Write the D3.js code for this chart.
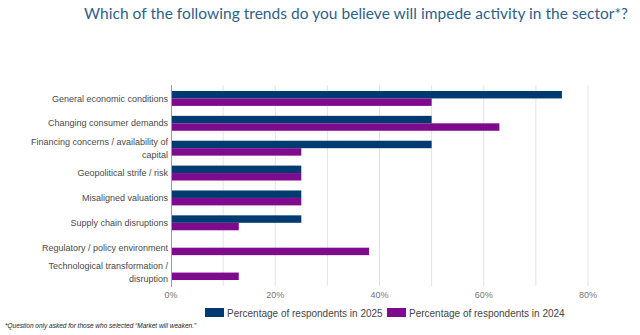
<!DOCTYPE html>
<html>
<head>
<meta charset="utf-8">
<script src="https://cdn.jsdelivr.net/npm/d3@7"></script>
<style>
  body { margin: 0; background: #fff; }
  svg { display: block; }
</style>
</head>
<body>
<div id="chart"></div>
<script>
// datos del grafico
var categorias = [
  ["General economic conditions"],
  ["Changing consumer demands"],
  ["Financing concerns / availability of", "capital"],
  ["Geopolitical strife / risk"],
  ["Misaligned valuations"],
  ["Supply chain disruptions"],
  ["Regulatory / policy environment"],
  ["Technological transformation /", "disruption"]
];
var valores2025 = [75, 50, 50, 25, 25, 25, 0, 0];
var valores2024 = [50, 63, 25, 25, 25, 13, 38, 13];
var series = ["Percentage of respondents in 2025", "Percentage of respondents in 2024"];
var colores = ["#003a70", "#7e0a8e"];
var ticks = [0, 20, 40, 60, 80];

var width = 640, height = 335;

const svg = d3.select("#chart")
  .append("svg")
    .attr("width", width)
    .attr("height", height)
    .style("font-family", "'Liberation Sans', Arial, sans-serif");

// titulo
svg.append("text")
  .attr("x", 84).attr("y", 19)
  .attr("textLength", 544)
  .attr("lengthAdjust", "spacing")
  .text("Which of the following trends do you believe will impede activity in the sector*?")
  .style("font-family", "Lato, 'Open Sans', sans-serif")
  .style("font-size", "15.5px")
  .style("fill", "#2f5f89");

var x = d3.scaleLinear().domain([0, 80]).range([171, 588]);
var y = d3.scaleBand()
  .domain(d3.range(categorias.length))
  .range([86, 285])
  .paddingInner(0.4)
  .paddingOuter(0.2);
var y2 = d3.scaleBand().domain([0, 1]).range([0, y.bandwidth()]);

// lineas de grilla cada 10%
svg.append("g").selectAll("line")
  .data(d3.range(10, 81, 10))
  .join("line")
    .attr("x1", d => x(d)).attr("x2", d => x(d))
    .attr("y1", 85).attr("y2", 286)
    .style("stroke", "#e3e3e3")
    .style("stroke-width", 1);

// barras
var filas = categorias.map((c, i) => ({i: i, v: [valores2025[i], valores2024[i]]}));
var grupos = svg.append("g").selectAll("g")
  .data(filas)
  .join("g")
    .attr("transform", d => "translate(0," + y(d.i) + ")");

grupos.selectAll("rect")
  .data(d => d.v.map((v, s) => ({v: v, s: s})).filter(d => d.v > 0))
  .join("rect")
    .attr("x", x(0))
    .attr("y", d => y2(d.s))
    .attr("width", d => x(d.v) - x(0))
    .attr("height", y2.bandwidth())
    .style("fill", d => colores[d.s]);

// eje vertical
svg.append("line")
  .attr("x1", x(0) + 0.5).attr("x2", x(0) + 0.5)
  .attr("y1", 85).attr("y2", 287)
  .style("stroke", "#9a9a9a")
  .style("stroke-width", 1);

// etiquetas de categorias
var etiquetas = svg.append("g").selectAll("text")
  .data(filas)
  .join("text")
    .attr("text-anchor", "end")
    .style("font-size", "9px")
    .style("fill", "#4a4a4a");

etiquetas.each(function(d) {
  var lineas = categorias[d.i];
  var cy = y(d.i) + y.bandwidth() / 2;
  var t = d3.select(this);
  lineas.forEach(function(l, k) {
    t.append("tspan")
      .attr("x", 168)
      .attr("y", cy + (k - (lineas.length - 1) / 2) * 12.5)
      .attr("dy", "0.35em")
      .text(l);
  });
});

// etiquetas del eje x
svg.append("g").selectAll("text")
  .data(ticks)
  .join("text")
    .attr("x", d => x(d))
    .attr("y", 295)
    .attr("dy", "0.35em")
    .attr("text-anchor", "middle")
    .text(d => d + "%")
    .style("font-size", "9px")
    .style("fill", "#777");

// leyenda
var leyendaX = [205, 387];
series.forEach(function(s, i) {
  svg.append("rect")
    .attr("x", leyendaX[i]).attr("y", 308)
    .attr("width", 19).attr("height", 9)
    .style("fill", colores[i]);
  svg.append("text")
    .attr("x", leyendaX[i] + 22).attr("y", 313)
    .attr("dy", "0.35em")
    .text(s)
    .style("font-size", "10px")
    .style("fill", "#444");
});

// nota al pie
svg.append("text")
  .attr("x", 5).attr("y", 328)
  .text("*Question only asked for those who selected \u201cMarket will weaken.\u201d")
  .style("font-size", "6.5px")
  .style("font-style", "italic")
  .style("fill", "#222");
</script>
</body>
</html>
